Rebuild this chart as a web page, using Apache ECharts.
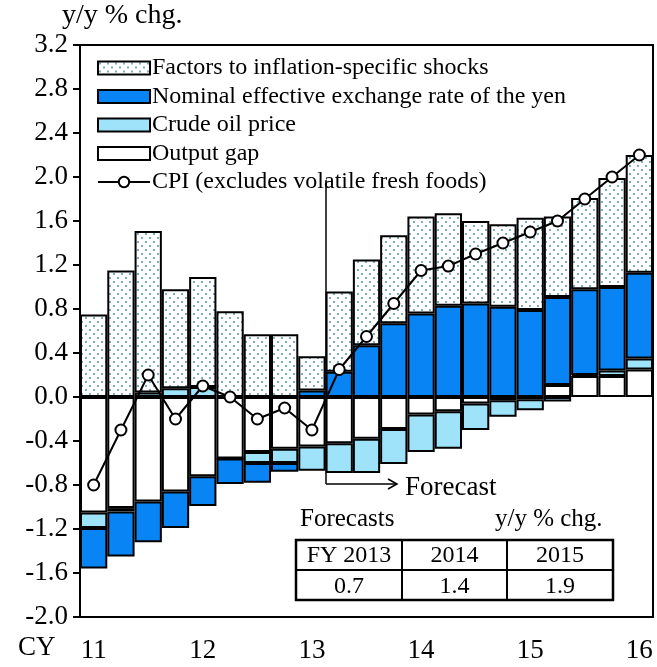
<!DOCTYPE html>
<html>
<head>
<meta charset="utf-8">
<script src="https://cdn.jsdelivr.net/npm/echarts@6/dist/echarts.min.js"></script>
<style>
html, body { margin: 0; padding: 0; background: #fff; }
#chart { width: 657px; height: 667px; }
</style>
</head>
<body>
<div id="chart"></div>
<script>
var quarters = ['11Q1','11Q2','11Q3','11Q4','12Q1','12Q2','12Q3','12Q4','13Q1','13Q2','13Q3','13Q4',
	'14Q1','14Q2','14Q3','14Q4','15Q1','15Q2','15Q3','15Q4','16Q1'];
var outputGap = [-1.05,-1.01,-0.95,-0.86,-0.72,-0.56,-0.50,-0.47,-0.45,-0.42,-0.38,-0.29,-0.16,-0.13,-0.06,-0.03,-0.02,0.11,0.19,0.19,0.25];
var crudeOil = [-0.14,-0.03,0.04,0.08,0.09,0,-0.10,-0.13,-0.22,-0.27,-0.31,-0.32,-0.34,-0.34,-0.24,-0.15,-0.10,-0.04,0.01,0.05,0.10];
var neer = [-0.37,-0.41,-0.37,-0.33,-0.27,-0.23,-0.18,-0.08,0.06,0.23,0.47,0.67,0.76,0.83,0.85,0.82,0.79,0.80,0.78,0.76,0.78];
var factors = [0.75,1.15,1.47,0.90,1.00,0.78,0.57,0.57,0.31,0.73,0.78,0.80,0.88,0.84,0.75,0.75,0.84,0.73,0.83,0.99,1.07];
var cpi = [-0.8,-0.3,0.2,-0.2,0.1,0,-0.2,-0.1,-0.3,0.25,0.55,0.85,1.15,1.19,1.3,1.4,1.5,1.6,1.8,2.0,2.2];
var forecastYears = ['FY 2013','2014','2015'];
var forecastValues = ['0.7','1.4','1.9'];

var FONT = '"Liberation Serif", "Times New Roman", serif';

// dotted fill
var pat = document.createElement('canvas');
pat.width = 8; pat.height = 8;
var ctx = pat.getContext('2d');
ctx.fillStyle = '#fff'; ctx.fillRect(0, 0, 8, 8);
ctx.fillStyle = '#3d8a98';
ctx.beginPath(); ctx.arc(2, 2, 0.9, 0, Math.PI * 2); ctx.fill();
ctx.beginPath(); ctx.arc(6, 6, 0.9, 0, Math.PI * 2); ctx.fill();

var chart = echarts.init(document.getElementById('chart'));

function barSeries(name, data, color) {
	return {
		name: name, type: 'bar', stack: 'all', data: data,
		barCategoryGap: 0,
		itemStyle: { color: color, borderColor: '#000', borderWidth: 2 }
	};
}

var tableGraphics = [];
var tx = [296, 402, 507, 613];
for (var i = 0; i < 3; i++) {
	tableGraphics.push({ type: 'text', x: (tx[i] + tx[i + 1]) / 2, y: 556,
		style: { text: forecastYears[i], font: '24px ' + FONT, fill: '#000', align: 'center', verticalAlign: 'middle' } });
	tableGraphics.push({ type: 'text', x: (tx[i] + tx[i + 1]) / 2, y: 587,
		style: { text: forecastValues[i], font: '24px ' + FONT, fill: '#000', align: 'center', verticalAlign: 'middle' } });
}

chart.setOption({
	animation: false,
	grid: { left: 80, right: 4, top: 45, bottom: 50, show: true, borderColor: '#000', borderWidth: 2 },
	legend: {
		orient: 'vertical', left: 92, top: 51, itemGap: 4.5, itemWidth: 52, itemHeight: 13,
		textStyle: { fontFamily: FONT, fontSize: 24, color: '#000', padding: [0, 0, 0, -3] },
		data: [
			{ name: 'Factors to inflation-specific shocks', icon: 'rect' },
			{ name: 'Nominal effective exchange rate of the yen', icon: 'rect' },
			{ name: 'Crude oil price', icon: 'rect' },
			{ name: 'Output gap', icon: 'rect' },
			'CPI (excludes volatile fresh foods)'
		]
	},
	xAxis: {
		type: 'category', data: quarters, position: 'bottom',
		axisLine: { onZero: false, lineStyle: { color: '#000', width: 2 } },
		axisTick: { inside: true, length: 8, interval: 3, lineStyle: { width: 2 } },
		axisLabel: {
			interval: 3, fontFamily: FONT, fontSize: 27, color: '#000', margin: 20,
			formatter: function (v) { return v.slice(0, 2); }
		}
	},
	yAxis: {
		type: 'value', min: -2.0, max: 3.2, interval: 0.4,
		splitLine: { show: false },
		axisLine: { show: true, lineStyle: { color: '#000', width: 2 } },
		axisTick: { show: true, length: 7, lineStyle: { width: 2 } },
		axisLabel: { fontFamily: FONT, fontSize: 27, color: '#000', margin: 12,
			formatter: function (v) { return v.toFixed(1); } }
	},
	series: [
		barSeries('Output gap', outputGap, '#fff'),
		barSeries('Crude oil price', crudeOil, '#9fe3fb'),
		barSeries('Nominal effective exchange rate of the yen', neer, '#0984f5'),
		barSeries('Factors to inflation-specific shocks', factors, { image: pat, repeat: 'repeat' }),
		{
			name: 'CPI (excludes volatile fresh foods)', type: 'line', data: cpi,
			symbol: 'circle', symbolSize: 11, z: 5,
			lineStyle: { color: '#000', width: 2 },
			itemStyle: { color: '#fff', borderColor: '#000', borderWidth: 2 }
		}
	],
	graphic: [
		{ type: 'text', left: 62, top: 2, style: { text: 'y/y % chg.', font: '28px ' + FONT, fill: '#000' } },
		{ type: 'text', left: 18, top: 634, style: { text: 'CY', font: '27px ' + FONT, fill: '#000' } },
		{ type: 'line', shape: { x1: 326, y1: 180, x2: 326, y2: 484 }, style: { stroke: '#000', lineWidth: 1.5 } },
		{ type: 'line', shape: { x1: 326, y1: 484, x2: 396, y2: 484 }, style: { stroke: '#000', lineWidth: 1.5 } },
		{ type: 'polyline', shape: { points: [[388, 479], [397, 484], [388, 489]] }, style: { stroke: '#000', lineWidth: 1.5, fill: null } },
		{ type: 'text', left: 405, top: 474, style: { text: 'Forecast', font: '27px ' + FONT, fill: '#000' } },
		{ type: 'text', left: 300, top: 507, style: { text: 'Forecasts', font: '25px ' + FONT, fill: '#000' } },
		{ type: 'text', left: 495, top: 507, style: { text: 'y/y % chg.', font: '25px ' + FONT, fill: '#000' } },
		{ type: 'rect', shape: { x: 296, y: 540, width: 317, height: 60 }, style: { fill: '#fff', stroke: '#000', lineWidth: 2.5 } },
		{ type: 'line', shape: { x1: 296, y1: 570, x2: 613, y2: 570 }, style: { stroke: '#000', lineWidth: 2 } },
		{ type: 'line', shape: { x1: 402, y1: 540, x2: 402, y2: 600 }, style: { stroke: '#000', lineWidth: 2 } },
		{ type: 'line', shape: { x1: 507, y1: 540, x2: 507, y2: 600 }, style: { stroke: '#000', lineWidth: 2 } }
	].concat(tableGraphics)
});
</script>
</body>
</html>
